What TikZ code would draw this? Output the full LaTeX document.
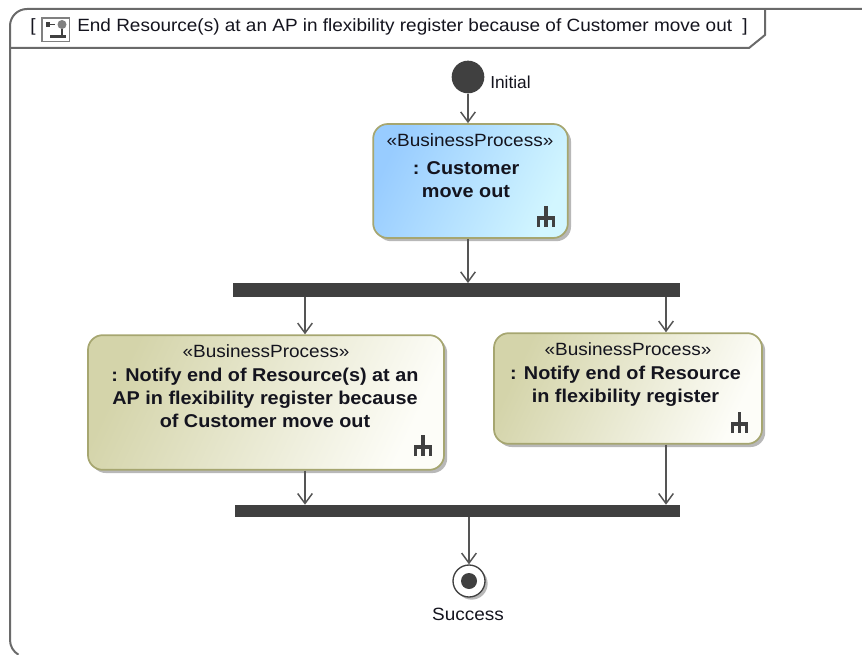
\documentclass[tikz,border=0pt]{standalone}
\usepackage{fontspec}
\setmainfont[FakeStretch=1.07]{Liberation Sans}
\newfontfamily\initfont{Liberation Sans}
\usetikzlibrary{shadows,arrows.meta,calc}
\definecolor{framecol}{HTML}{6A6A6A}
\definecolor{linecol}{HTML}{555555}
\definecolor{barcol}{HTML}{404040}
\definecolor{boxline}{HTML}{A6A670}
\definecolor{txtcol}{HTML}{14141E}
\definecolor{shadowcol}{HTML}{B8B8B8}
\definecolor{blue1}{HTML}{98CCFF}
\definecolor{blue2}{HTML}{D2F6FF}
\definecolor{olive1}{HTML}{D4D4AA}
\definecolor{olive2}{HTML}{FDFDF8}
\tikzset{
  x=0.75pt,y=-0.75pt,
  frameline/.style={draw=framecol,line width=1.5pt},
  flow/.style={draw=linecol,line width=1.1pt,-{Straight Barb[length=7.5pt,width=11pt,line width=1.1pt]}},
  procbox/.style={draw=boxline,line width=1.3pt,rounded corners=11pt,inner sep=0pt,
    drop shadow={shadow xshift=2.4pt,shadow yshift=-2.4pt,fill=shadowcol,opacity=1}},
  bluefill/.style={left color=blue1,right color=blue2,shading angle=65},
  olivefill/.style={left color=olive1,right color=olive2,shading angle=65},
  bar/.style={fill=barcol,draw=none,inner sep=0pt},
  stereo/.style={font=\fontsize{13.3}{17.25}\selectfont,text=txtcol,inner sep=0pt},
  pname/.style={font=\fontsize{13.9}{17.25}\selectfont\bfseries,text=txtcol,inner sep=0pt,align=center},
  plain/.style={font=\fontsize{13.3}{16}\selectfont,text=txtcol,inner sep=0pt},
  rake/.pic={
    \draw[draw=barcol,line width=2.3pt] (0,0) -- (0,21) (-7.2,21) -- (-7.2,12) -- (7.2,12) -- (7.2,21);
  },
}
\begin{document}
\begin{tikzpicture}
\useasboundingbox (0,0) rectangle (862,655);
\clip (0,0) rectangle (862,655);
% frame
\draw[frameline] (862,9) -- (27,9) arc[start angle=90,end angle=180,radius=17*0.75pt] -- (10,640) arc[start angle=180,end angle=240,radius=17*0.75pt];
\draw[frameline] (765,9) -- (765,35) -- (749,48) -- (10,48);
% title
\node[plain,anchor=west] (tl) at (30,27) {[};
\node[plain,anchor=west] (title) at (77,27) {End Resource(s) at an AP in flexibility register because of Customer move out};
\node[plain,anchor=east] (tr) at (748,27) {]};
% title icon
\draw[draw=gray,line width=0.9pt,fill=white] (42,18) rectangle (69.5,41.5);
\draw[draw=barcol,line width=0.8pt] (48,24.5) -- (55,24.5) (62,29) -- (62,36) (51,36.5) -- (66,36.5);
\fill[barcol] (46,22) rectangle (50,27);
\fill[gray] (62,24.5) circle[radius=4.5];
\fill[barcol] (50,35.2) rectangle (66,38);
% initial
\node[circle,fill=barcol,inner sep=0pt,minimum size=24.5pt] (init) at (468,77) {};
\node[plain,anchor=west,font=\initfont\fontsize{13}{16}\selectfont] (initl) at (490,82) {Initial};
% box 1
\node[procbox,bluefill,minimum width=146pt,minimum height=85.5pt] (b1) at (470.5,181) {};
\node[stereo] (b1s) at (470,140) {«BusinessProcess»};
\node[pname] (b1n) at (466,179.5) {: Customer\\move out};
\pic at (546,206) {rake};
% fork 1
\node[bar,minimum width=335.25pt,minimum height=10pt] (f1) at (456.5,290) {};
% box 2
\node[procbox,olivefill,minimum width=267pt,minimum height=101pt] (b2) at (266,402.5) {};
\node[stereo] (b2s) at (266,351) {«BusinessProcess»};
\node[pname] (b2n) at (265,398) {: Notify end of Resource(s) at an\\AP in flexibility register because\\of Customer move out};
\pic at (423,435) {rake};
% box 3
\node[procbox,olivefill,minimum width=201pt,minimum height=83pt] (b3) at (628,388.5) {};
\node[stereo] (b3s) at (628,349.5) {«BusinessProcess»};
\node[pname] (b3n) at (625.5,386) {: Notify end of Resource\\in flexibility register};
\pic at (739.5,412) {rake};
% fork 2
\node[bar,minimum width=333.75pt,minimum height=9pt] (f2) at (457.5,511) {};
% final
\node[circle,draw=barcol,line width=1pt,fill=white,inner sep=0pt,minimum size=24pt,
  drop shadow={shadow xshift=2pt,shadow yshift=-2pt,fill=shadowcol,opacity=1}] (fin) at (469,581) {};
\node[circle,fill=barcol,inner sep=0pt,minimum size=12pt] (fini) at (fin.center) {};
\node[plain] (finl) at (468,614) {Success};
% anchors for the connectors
\coordinate (xa) at (305,0);
\coordinate (xb) at (666,0);
% connectors
\draw[flow] (init.south) -- (init.south |- b1.north);
\draw[flow] (init.south |- b1.south) -- (init.south |- f1.north);
\draw[flow] (xa |- f1.south) -- (xa |- b2.north);
\draw[flow] (xb |- f1.south) -- (xb |- b3.north);
\draw[flow] (xa |- b2.south) -- (xa |- f2.north);
\draw[flow] (xb |- b3.south) -- (xb |- f2.north);
\draw[flow] (fin.north |- f2.south) -- (fin.north);
\end{tikzpicture}
\end{document}
